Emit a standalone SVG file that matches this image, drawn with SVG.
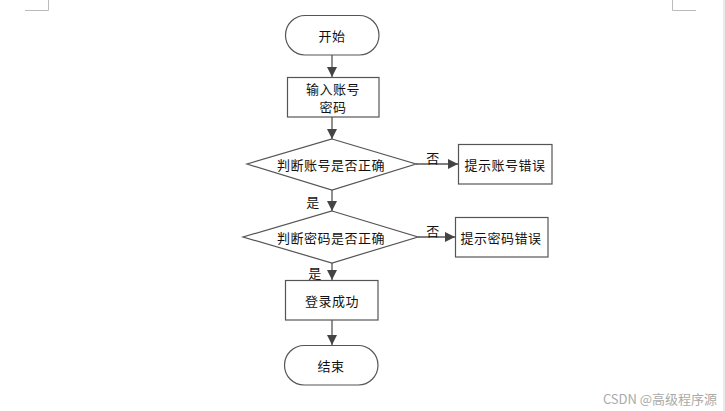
<svg xmlns="http://www.w3.org/2000/svg" width="725" height="411" viewBox="0 0 725 411">
<style>
.sh{fill:#fff;stroke:#555;stroke-width:1.2}
.t{font-family:"Noto Sans CJK SC","Noto Sans",sans-serif;font-size:13px;fill:#111;text-anchor:middle;dominant-baseline:central;letter-spacing:0.5px}
.c{stroke:#555;stroke-width:1.3;fill:none}
.m{stroke:#bbb;stroke-width:1;fill:none}
</style>
<defs>
<marker id="ah" viewBox="0 0 10 10" refX="10" refY="5" markerWidth="10" markerHeight="10" markerUnits="userSpaceOnUse" orient="auto">
<path d="M0,0 L10,5 L0,10 Z" fill="#444"/>
</marker>
</defs>
<rect width="725" height="411" fill="#fff"/>
<g id="page-marks">
<path class="m" d="M25,10.5 H48.5 V0"/>
<path class="m" d="M672.5,0 V10.5 H696"/>
<path d="M724,0 V411" stroke="#e2e2e2" stroke-width="1.5"/>
</g>
<g id="connectors">
<path class="c" d="M332,55 V77" marker-end="url(#ah)"/>
<path class="c" d="M332,117 V139" marker-end="url(#ah)"/>
<path class="c" d="M416,164 H458" marker-end="url(#ah)"/>
<path class="c" d="M332,190 V211" marker-end="url(#ah)"/>
<path class="c" d="M418,237 H455" marker-end="url(#ah)"/>
<path class="c" d="M332,263 V280" marker-end="url(#ah)"/>
<path class="c" d="M332,320 V345" marker-end="url(#ah)"/>
<text class="t" x="433" y="157">否</text>
<text class="t" x="313" y="201">是</text>
<text class="t" x="433" y="230">否</text>
<text class="t" x="315" y="272">是</text>
</g>
<g id="start">
<rect class="sh" x="285.5" y="15.5" width="93.5" height="39.5" rx="19.75"/>
<text class="t" x="332" y="35">开始</text>
</g>
<g id="input">
<rect class="sh" x="287.5" y="77.5" width="91.5" height="39.5"/>
<text class="t" x="333" y="88">输入账号</text>
<text class="t" x="333" y="106">密码</text>
</g>
<g id="check-account">
<polygon class="sh" points="332,139 416,164 332,190 247,164"/>
<text class="t" x="331" y="164">判断账号是否正确</text>
</g>
<g id="account-error">
<rect class="sh" x="458.5" y="144.5" width="93.5" height="39.5"/>
<text class="t" x="505" y="164">提示账号错误</text>
</g>
<g id="check-password">
<polygon class="sh" points="332,211 418,237 332,263 243,237"/>
<text class="t" x="331" y="237">判断密码是否正确</text>
</g>
<g id="password-error">
<rect class="sh" x="455.5" y="217.5" width="92.5" height="39.5"/>
<text class="t" x="501" y="237">提示密码错误</text>
</g>
<g id="success">
<rect class="sh" x="285.5" y="280.5" width="92.5" height="39.5"/>
<text class="t" x="332" y="300">登录成功</text>
</g>
<g id="end">
<rect class="sh" x="284.5" y="345.5" width="93.5" height="39.5" rx="19.75"/>
<text class="t" x="331" y="365">结束</text>
</g>
<text x="660" y="398" style="font-family:'Noto Sans CJK SC','Noto Sans',sans-serif;font-size:13px;fill:#aaa;text-anchor:middle;dominant-baseline:central">CSDN @高级程序源</text>
</svg>
